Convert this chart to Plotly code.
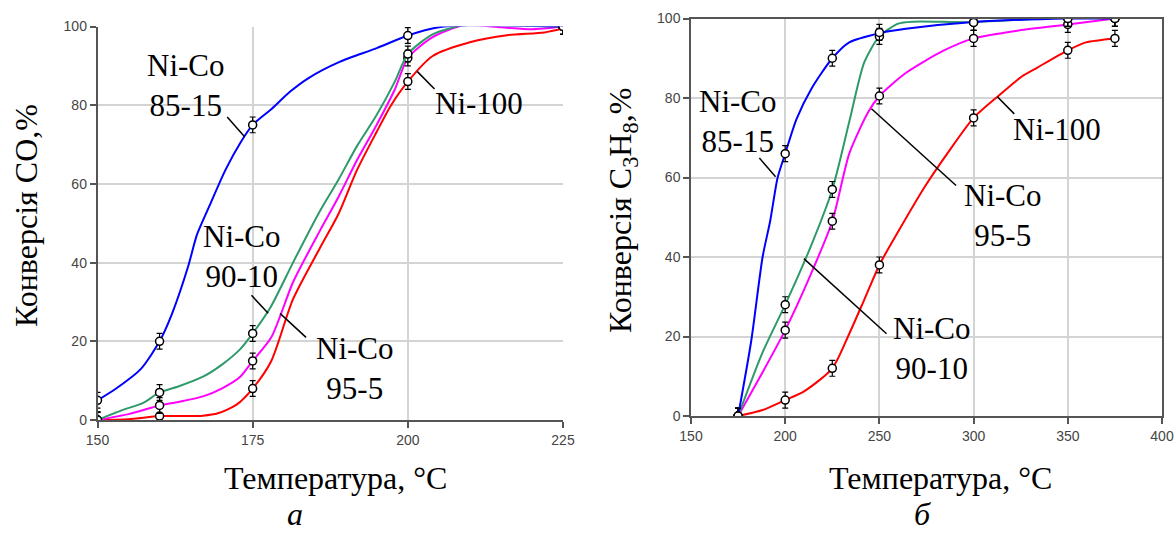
import plotly.graph_objects as go

# ---------------- Data: panel a (CO conversion) ----------------
temp_a = [150, 160, 175, 200, 225]
co_8515 = [5, 20, 75, 97.7, 100]
co_9010 = [0, 7, 22, 93, 100]
co_955 = [0, 3.7, 15, 92, 100]
co_ni100 = [0, 1, 8, 86, 100]

curve_a_8515_x = [150, 153, 157, 160, 162, 164.6, 166, 168.2, 170.6, 173, 175, 178, 181, 184, 189, 195, 200, 205, 210, 225]
curve_a_8515_y = [5, 8, 13, 20, 27, 39, 47, 55, 63.5, 70.4, 75, 79, 83.4, 86.9, 91, 94.5, 97.7, 99.8, 100.3, 100]
curve_a_9010_x = [150, 154, 157.3, 160, 163, 167, 170, 173, 175, 178, 181.5, 185.8, 188.8, 191.8, 194.9, 197.9, 200, 204, 209, 215, 225]
curve_a_9010_y = [0, 2.5, 4.3, 7, 8.5, 11, 14, 18, 22, 29, 40, 53, 61, 69.6, 77.3, 86, 93, 98, 100.3, 100.3, 100]
curve_a_955_x = [150, 155, 160, 163, 167, 170, 173, 175, 178, 181.5, 185.8, 188.8, 191.8, 194.9, 197.9, 200, 204, 209, 215, 220, 225]
curve_a_955_y = [0, 1.5, 3.7, 4.6, 6, 8, 11, 15, 21, 35, 48, 56.6, 66, 74.8, 84, 92, 97.3, 100.3, 99.8, 99.3, 100]
curve_a_ni_x = [150, 155, 160, 164, 167, 169.4, 172.4, 175, 178, 181.5, 185.8, 188.8, 191.8, 194.9, 197.3, 200, 204, 210, 216, 222, 225]
curve_a_ni_y = [0, 0.2, 1, 1, 1.1, 1.7, 3.9, 8, 15, 30.7, 43.6, 52.3, 63.5, 73, 80, 86, 92.5, 96, 97.8, 98.5, 99.5]

# ---------------- Data: panel b (C3H8 conversion) ----------------
temp_b = [175, 200, 225, 250, 300, 350, 375]
c3_8515 = [0, 66, 90, 96.5, 99, 100, 100]
c3_9010 = [0, 28, 57, 95.5, 99, 100, 100]
c3_955 = [0, 21.6, 49, 80.5, 95, 98.5, 100]
c3_ni100 = [0, 4, 12, 38, 75, 92, 95]

curve_b_8515_x = [175, 182, 188, 192, 196, 200, 206, 214, 225, 234, 250, 264, 300, 350, 375]
curve_b_8515_y = [0, 19, 40, 49, 60, 66, 74.7, 82.4, 90, 94, 96.3, 97.4, 99.1, 100, 100]
curve_b_9010_x = [175, 188, 200, 213, 225, 234, 242, 250, 260, 268, 300, 350, 375]
curve_b_9010_y = [0, 16, 28, 42, 57, 74, 89, 95.5, 98.7, 99.2, 99.1, 100.3, 100]
curve_b_955_x = [175, 188, 200, 213, 225, 234, 244, 250, 264, 284, 300, 324, 350, 375]
curve_b_955_y = [0, 11, 21.6, 35, 49, 66, 76.4, 80.5, 86.3, 91.9, 95, 97, 98.5, 100]
curve_b_ni_x = [175, 188, 200, 210, 225, 234, 242, 250, 260, 274, 286, 300, 313.6, 325.6, 333.6, 350, 359.6, 375]
curve_b_ni_y = [0, 1.5, 4, 6.2, 12, 20.7, 29.3, 38, 46.4, 57.6, 66, 75, 80.7, 85.4, 87.6, 92, 94, 95]

err = 2

colors = {"8515": "#0000ff", "9010": "#2e9a6a", "955": "#ff00ff", "ni": "#ff0000"}

W, H, OFF = 1176, 534, 0  # body margin removed via post_script


def PX(px):
    return (px - OFF) / W


def PY(py):
    return 1 - (py - OFF) / H


fig = go.Figure()


def add_series(xc, yc, xm, ym, color, xa, ya):
    fig.add_trace(go.Scatter(x=xc, y=yc, mode="lines", xaxis=xa, yaxis=ya,
                             line=dict(color=color, width=2, shape="spline", smoothing=0.7),
                             showlegend=False, hoverinfo="skip"))
    fig.add_trace(go.Scatter(x=xm, y=ym, mode="markers", xaxis=xa, yaxis=ya,
                             marker=dict(symbol="circle", size=8, color="white",
                                         line=dict(color="black", width=1.5)),
                             error_y=dict(type="constant", value=err, color="black",
                                          thickness=1.2, width=3),
                             showlegend=False))


add_series(curve_a_ni_x, curve_a_ni_y, temp_a, co_ni100, colors["ni"], "x", "y")
add_series(curve_a_955_x, curve_a_955_y, temp_a, co_955, colors["955"], "x", "y")
add_series(curve_a_9010_x, curve_a_9010_y, temp_a, co_9010, colors["9010"], "x", "y")
add_series(curve_a_8515_x, curve_a_8515_y, temp_a, co_8515, colors["8515"], "x", "y")

add_series(curve_b_ni_x, curve_b_ni_y, temp_b, c3_ni100, colors["ni"], "x2", "y2")
add_series(curve_b_955_x, curve_b_955_y, temp_b, c3_955, colors["955"], "x2", "y2")
add_series(curve_b_9010_x, curve_b_9010_y, temp_b, c3_9010, colors["9010"], "x2", "y2")
add_series(curve_b_8515_x, curve_b_8515_y, temp_b, c3_8515, colors["8515"], "x2", "y2")

tickfont = dict(family="Liberation Sans, Arial", size=14, color="#454545")
grid = "#d4d4d4"
axline = "#555555"

common_x = dict(showgrid=True, gridcolor=grid, gridwidth=1.5, showline=True, linecolor=axline,
                linewidth=1.5, ticks="outside", ticklen=6, tickcolor=axline, tickwidth=1.5,
                tickfont=tickfont, zeroline=False, automargin=False)
common_y = dict(showgrid=True, gridcolor=grid, gridwidth=1.5, showline=True, linecolor=axline,
                linewidth=1.5, ticks="outside", ticklen=6, tickcolor=axline, tickwidth=1.5,
                tickfont=tickfont, zeroline=False, range=[0, 100], dtick=20, automargin=False)

fig.update_layout(
    template="none",
    width=W, height=H,
    margin=dict(l=0, r=0, t=0, b=0, pad=0, autoexpand=False),
    paper_bgcolor="white", plot_bgcolor="white",
    xaxis=dict(domain=[PX(97.5), PX(563)], range=[150, 225], dtick=25, anchor="y", **common_x),
    yaxis=dict(domain=[PY(420), PY(26.5)], anchor="x", **common_y),
    xaxis2=dict(domain=[PX(691), PX(1162)], range=[150, 400], dtick=50, anchor="y2",
                mirror=True, **common_x),
    yaxis2=dict(domain=[PY(416), PY(18.5)], anchor="x2", mirror=True, **common_y),
)

serif = "Liberation Serif"
lab_font = dict(family=serif, size=31, color="black")

labels_a = [("Ni-Co<br>85-15", 164.3, 85), ("Ni-Co<br>90-10", 173.3, 41.5),
            ("Ni-Co<br>95-5", 191.5, 13), ("Ni-100", 211.5, 80.4)]
labels_b = [("Ni-Co<br>85-15", 175, 74), ("Ni-100", 344.5, 72.2),
            ("Ni-Co<br>95-5", 315.6, 50.5), ("Ni-Co<br>90-10", 277.7, 17)]

for t, x, y in labels_a:
    fig.add_annotation(text=t, x=x, y=y, xref="x", yref="y", showarrow=False, font=lab_font,
                       align="center", xanchor="center", yanchor="middle")
for t, x, y in labels_b:
    fig.add_annotation(text=t, x=x, y=y, xref="x2", yref="y2", showarrow=False, font=lab_font,
                       align="center", xanchor="center", yanchor="middle")

leaders_a = [(170.9, 77, 173.7, 72), (174.8, 31.7, 177.5, 27.1),
             (179.4, 27.1, 183.6, 21), (201.5, 88.6, 204.3, 84.1)]
leaders_b = [(186.3, 64.9, 194.9, 60.2), (312.6, 80.3, 321.6, 76),
             (245.8, 77.3, 290.7, 58), (209.9, 39.6, 253.8, 20.7)]
for x0, y0, x1, y1 in leaders_a:
    fig.add_shape(type="line", x0=x0, y0=y0, x1=x1, y1=y1, xref="x", yref="y",
                  line=dict(color="black", width=1.5))
for x0, y0, x1, y1 in leaders_b:
    fig.add_shape(type="line", x0=x0, y0=y0, x1=x1, y1=y1, xref="x2", yref="y2",
                  line=dict(color="black", width=1.5))

title_font = dict(family=serif, size=32, color="black")
common_ann = dict(xref="paper", yref="paper", showarrow=False, xanchor="center", yanchor="middle")
fig.add_annotation(text="Температура, °C", x=PX(335), y=PY(478), font=title_font, **common_ann)
fig.add_annotation(text="Температура, °C", x=PX(940), y=PY(478), font=title_font, **common_ann)
fig.add_annotation(text="Конверсія CO,%", x=PX(26), y=PY(216), font=title_font, textangle=-90,
                   **common_ann)
fig.add_annotation(text="Конверсія C<sub>3</sub>H<sub>8</sub>,%", x=PX(623), y=PY(211),
                   font=title_font, textangle=-90, **common_ann)
sub_font = dict(family=serif, size=32, color="black")
fig.add_annotation(text="<i>а</i>", x=PX(295), y=PY(514), font=sub_font, **common_ann)
fig.add_annotation(text="<i>б</i>", x=PX(922), y=PY(514), font=sub_font, **common_ann)

fig.write_html("out.html", config={"displayModeBar": False},
               post_script="document.body.style.margin='0';document.body.style.overflow='hidden';")
